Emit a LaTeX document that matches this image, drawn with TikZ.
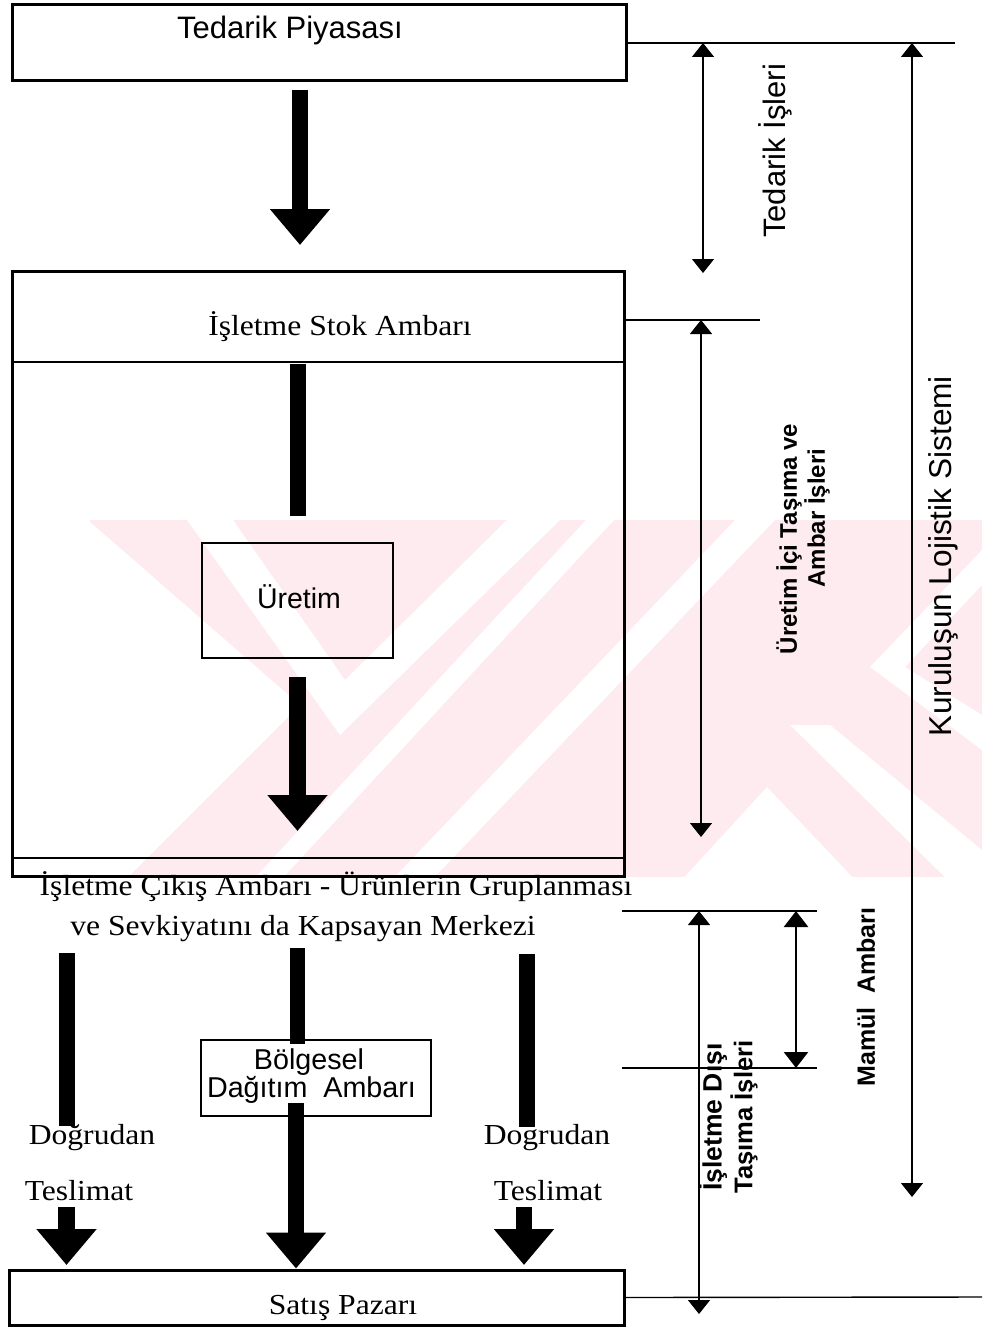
\documentclass[tikz,border=0pt]{standalone}
\usepackage{fontspec}
\setmainfont[FakeStretch=1.09]{Liberation Serif}
\newfontfamily\arial{Liberation Sans}
\usetikzlibrary{arrows.meta}
\definecolor{wmpink}{RGB}{253,235,239}
\newcommand\fsz[1]{\fontsize{#1}{#1}\selectfont}

\begin{document}
\begin{tikzpicture}[x=1pt,y=-1pt,
  heavybox/.style={draw,line width=3pt,inner sep=0pt},
  lightbox/.style={draw,line width=1.8pt,inner sep=0pt},
  serif/.style={font=\fsz{29},anchor=base,inner sep=0pt},
  sanstext/.style={font=\arial\fsz{#1},anchor=base,inner sep=0pt},
  sidelabel/.style={rotate=90,inner sep=0pt,font=\arial\fsz{#1}},
  sidelabelbf/.style={rotate=90,inner sep=0pt,font=\arial\bfseries\fsz{#1}},
  flowbar/.style={line width=15.5pt},
  flowarrow/.style={line width=16.5pt,-{Triangle[width=58pt,length=36pt]}},
  guide/.style={line width=1.4pt},
  dimarrow/.style={line width=1.3pt,{Triangle[width=22pt,length=14pt]}-{Triangle[width=22pt,length=14pt]}},
  heavydim/.style={line width=2.4pt,{Triangle[width=24pt,length=16pt]}-{Triangle[width=24pt,length=16pt]}}
]
\useasboundingbox (0,0) rectangle (982,1327);
\fill[white] (0,0) rectangle (982,1327);

% faint background emblem
\begin{scope}
  \clip (90,520) rectangle (982,876);
  \fill[wmpink] (90,520) rectangle (982,882);
  \fill[white] (90,522) -- (300,705) -- (115,890) -- (90,890) -- cycle;
  \fill[white] (187,520) -- (233,520) -- (345,680) -- (507,520) -- (560,520) -- (340,735) -- cycle;
  \fill[white] (251,882) -- (279,882) -- (614,520) -- (586,520) -- cycle;
  \fill[white] (390,882) -- (430,882) -- (775,520) -- (735,520) -- cycle;
  \fill[white] (680,882) -- (767,787) -- (857,882) -- cycle;
  \fill[white] (870,667) -- (982,550) -- (982,585) -- (905,667) -- (982,715) -- (982,750) -- cycle;
  \fill[white] (790,725) -- (830,725) -- (982,850) -- (982,882) -- (950,882) -- cycle;
\end{scope}

% supply market
\node[heavybox,minimum width=614pt,minimum height=76pt] (supply) at (319,43) {};
\node[sanstext=31] (supplytxt) at (290,39) {Tedarik Piyasası};

\coordinate (a1s) at (300,90);
\coordinate (a1e) at (300,245);
\draw[flowarrow] (a1s) -- (a1e);

% stock warehouse frame
\node[heavybox,minimum width=612pt,minimum height=605pt] (stock) at (318,573.5) {};
\coordinate (hdr) at (0,362);
\coordinate (ftr) at (0,858);
\draw[line width=1.5pt] (stock.west |- hdr) -- (stock.east |- hdr);
\draw[line width=1.5pt] (stock.west |- ftr) -- (stock.east |- ftr);
\node[serif] (stocktxt) at (340,335) {İşletme Stok Ambarı};

\coordinate (b1s) at (298,364);
\coordinate (b1e) at (298,516);
\draw[flowbar] (b1s) -- (b1e);

% production
\node[lightbox,minimum width=191pt,minimum height=115pt] (prod) at (297.5,600.5) {};
\node[sanstext=28.5] (prodtxt) at (299,608) {Üretim};

\coordinate (a2s) at (297.5,677);
\coordinate (a2e) at (297.5,831);
\draw[flowarrow] (a2s) -- (a2e);

% exit warehouse caption
\node[serif] (exit1) at (336,895) {İşletme Çıkış Ambarı - Ürünlerin Gruplanması};
\node[serif] (exit2) at (303,935) {ve Sevkiyatını da Kapsayan Merkezi};

% distribution channels
\coordinate (lbs) at (67,953);
\coordinate (lbe) at (67,1126);
\draw[flowbar] (lbs) -- (lbe);
\coordinate (rbs) at (527,954);
\coordinate (rbe) at (527,1127);
\draw[flowbar] (rbs) -- (rbe);

\node[lightbox,minimum width=230pt,minimum height=76pt] (region) at (316,1078) {};
\node[sanstext=28.7] (regtxt1) at (309,1069) {Bölgesel};
\node[sanstext=28.7] (regtxt2) at (311.5,1097) {Dağıtım\ \ Ambarı};

\coordinate (mbs) at (297.5,948);
\draw[flowbar] (mbs) -- (region.north -| mbs) -- ++(0,5);

\node[serif] (dl1) at (92,1144) {Doğrudan};
\node[serif] (dl2) at (79,1200) {Teslimat};
\node[serif] (dr1) at (547,1144) {Dogrudan};
\node[serif] (dr2) at (548,1200) {Teslimat};

% sales market
\node[heavybox,minimum width=615pt,minimum height=55pt] (market) at (316.5,1297.5) {};
\node[serif] (markettxt) at (343,1314) {Satış Pazarı};

\coordinate (mas) at (296,1103);
\draw[flowarrow] (mas) -- (market.north -| mas);
\coordinate (las) at (66.5,1207);
\coordinate (lae) at (66.5,1265);
\draw[flowarrow] (las) -- (lae);
\coordinate (ras) at (524,1207);
\coordinate (rae) at (524,1265);
\draw[flowarrow] (ras) -- (rae);

% dimension guides on the right
\coordinate (g1) at (955,43);
\draw[guide] (supply.east) -- (g1);
\coordinate (g2) at (760,320);
\draw[guide] (stock.east |- g2) -- (g2);
\coordinate (g3a) at (622,911);
\coordinate (g3b) at (817,911);
\draw[guide] (g3a) -- (g3b);
\coordinate (g4a) at (622,1068);
\coordinate (g4b) at (817,1068);
\draw[guide] (g4a) -- (g4b);
\coordinate (g5) at (982,1297);
\draw[guide] (market.east) -- (g5);

\coordinate (d1s) at (703,43);
\coordinate (d1e) at (703,273);
\draw[dimarrow] (d1s) -- (d1e);
\coordinate (d2s) at (912,43);
\coordinate (d2e) at (912,1197);
\draw[dimarrow] (d2s) -- (d2e);
\coordinate (d3s) at (701,320);
\coordinate (d3e) at (701,837);
\draw[dimarrow] (d3s) -- (d3e);
\coordinate (d4s) at (796,911);
\coordinate (d4e) at (796,1068);
\draw[heavydim] (d4s) -- (d4e);
\coordinate (d5s) at (699,911);
\coordinate (d5e) at (699,1314);
\draw[dimarrow] (d5s) -- (d5e);

% side labels
\node[sidelabel=31] (tedlbl) at (775,151) {Tedarik İşleri};
\node[sidelabel=31.6] (syslbl) at (943,556) {Kuruluşun Lojistik Sistemi};
\node[sidelabelbf=24] (prl1) at (789,539) {Üretim İçi Taşıma ve};
\node[sidelabelbf=24] (prl2) at (817,518) {Ambar İşleri};
\node[sidelabelbf=26.5] (exl1) at (713,1117) {İşletme Dışı};
\node[sidelabelbf=25.6] (exl2) at (744,1117) {Taşıma İşleri};
\node[sidelabelbf=25] (maml) at (866,997) {Mamül\ \ Ambarı};
\end{tikzpicture}
\end{document}
